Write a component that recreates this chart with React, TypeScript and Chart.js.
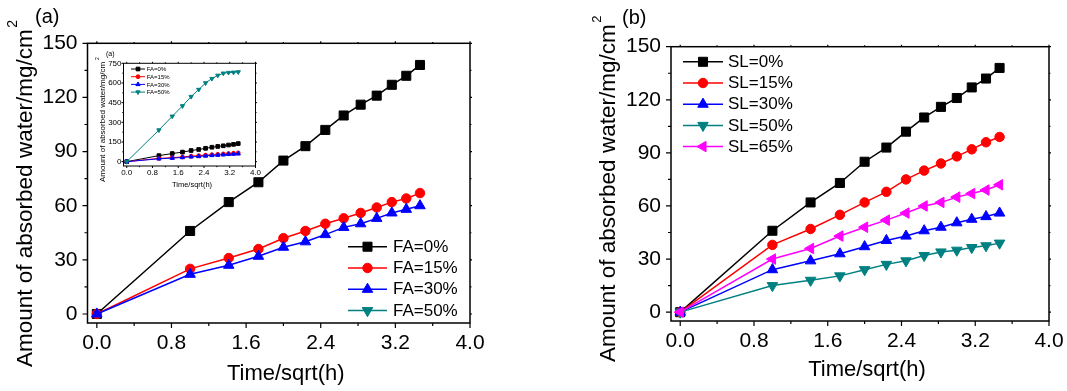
import React, { useEffect, useRef } from 'react';
import { Chart, registerables } from 'chart.js';

Chart.register(...registerables);

// ---------- data ----------
const timeSqrtH = [0, 1, 1.414, 1.732, 2, 2.236, 2.449, 2.646, 2.828, 3, 3.162, 3.317, 3.464];

const fa0 = [0, 46, 62, 73, 85, 93, 102, 110, 116, 121, 127, 132, 138];
const fa15 = [0, 25, 31, 36, 42, 46, 50, 53, 56, 59, 62, 64, 67];
const fa30 = [0, 22, 27, 32, 37, 40, 44, 48, 50, 53, 56, 58, 60];
const fa50 = [0, 241, 346, 425, 496, 550, 600, 633, 658, 674, 679, 681, 684];

const sl0 = [0, 46, 62, 73, 85, 93, 102, 110, 116, 121, 127, 132, 138];
const sl15 = [0, 38, 47, 55, 62, 68, 75, 80, 84, 88, 92, 96, 99];
const sl30 = [0, 24, 29, 33, 37, 40.5, 43, 46, 48, 50.5, 52.5, 54, 56];
const sl50 = [0, 15, 18, 20.5, 24, 27, 29, 32, 34, 35, 36.5, 37.5, 39];
const sl65 = [0, 30, 36, 43, 48, 52, 56, 60, 62, 65, 67, 69, 72];

const faLabels = ['FA=0%', 'FA=15%', 'FA=30%', 'FA=50%'];
const slLabels = ['SL=0%', 'SL=15%', 'SL=30%', 'SL=50%', 'SL=65%'];

const xTicks = [0, 0.8, 1.6, 2.4, 3.2, 4.0];
const xMinor = [0.4, 1.2, 2.0, 2.8, 3.6];
const yTicksMain = [0, 30, 60, 90, 120, 150];
const yMinorMain = [15, 45, 75, 105, 135];
const yTicksInset = [0, 150, 300, 450, 600, 750];
const yMinorInset = [75, 225, 375, 525, 675];

const xTitleText = 'Time/sqrt(h)';
const yTitleText = 'Amount of absorbed water/mg/cm';

// ---------- styles ----------
const FAMILY = "'Liberation Sans', Arial, Helvetica, sans-serif";
const COLORS = { black: '#000000', red: '#FF0000', blue: '#0000FF', teal: '#008080', magenta: '#FF00FF' };
type Marker = { style: string; rot: number; size: number };
const MK: Record<string, Marker> = {
  square: { style: 'rect', rot: 0, size: 1.0 },
  circle: { style: 'circle', rot: 0, size: 0.74 },
  up: { style: 'triangle', rot: 0, size: 0.95 },
  down: { style: 'triangle', rot: 180, size: 0.95 },
  left: { style: 'triangle', rot: 270, size: 0.95 },
};

function drawMarker(ctx: CanvasRenderingContext2D, m: Marker, x: number, y: number, r: number, color: string) {
  ctx.save();
  ctx.fillStyle = color;
  ctx.strokeStyle = color;
  ctx.lineWidth = 1;
  ctx.beginPath();
  if (m.style === 'rect') {
    const s = Math.SQRT1_2 * r;
    ctx.rect(x - s, y - s, 2 * s, 2 * s);
  } else if (m.style === 'circle') {
    ctx.arc(x, y, r, 0, Math.PI * 2);
  } else {
    let rad = (m.rot * Math.PI) / 180;
    ctx.moveTo(x + Math.sin(rad) * r, y - Math.cos(rad) * r);
    rad += (2 * Math.PI) / 3;
    ctx.lineTo(x + Math.sin(rad) * r, y - Math.cos(rad) * r);
    rad += (2 * Math.PI) / 3;
    ctx.lineTo(x + Math.sin(rad) * r, y - Math.cos(rad) * r);
    ctx.closePath();
  }
  ctx.fill();
  ctx.stroke();
  ctx.restore();
}

type SeriesDef = { label: string; values: number[]; color: string; marker: Marker; plot: boolean };

function buildDatasets(series: SeriesDef[], baseR: number, lw: number) {
  return series.map((s, i) => ({
    label: s.label,
    data: s.plot ? timeSqrtH.map((x, k) => ({ x, y: s.values[k] })) : [],
    borderColor: s.color,
    backgroundColor: s.color,
    borderWidth: lw,
    pointStyle: s.marker.style,
    pointRotation: s.marker.rot,
    pointRadius: baseR * s.marker.size,
    pointHoverRadius: baseR * s.marker.size,
    pointBackgroundColor: s.color,
    pointBorderColor: s.color,
    pointBorderWidth: 1,
    tension: 0,
    order: -i,
  }));
}

type Opts = {
  yW: number; padT: number; padR: number; xH: number;
  yMin: number; yMax: number;
  yTicks: number[]; yMinor: number[];
  tickSize: number; tickPadX: number; tickPadY: number;
  frameW: number; majLen: number; minLen: number; oppLen: number;
  xTitle: { dx: number; y: number; size: number };
  yTitle: { x: number; y: number; size: number; sup: number; rise: number; gap: number };
  tag: { text: string; x: number; y: number; size: number };
  legend: { x: number; y: number; dy: number; half: number; textX: number; size: number; r: number; lw: number };
  series: SeriesDef[];
  markerR: number;
};

function decoPlugin(o: Opts) {
  return {
    id: 'deco',
    afterDraw(chart: any) {
      const ctx: CanvasRenderingContext2D = chart.ctx;
      const { left, right, top, bottom } = chart.chartArea;
      const xs = chart.scales.x;
      const ys = chart.scales.y;
      ctx.save();
      ctx.strokeStyle = '#000';
      ctx.lineWidth = o.frameW;
      ctx.strokeRect(left, top, right - left, bottom - top);
      ctx.lineWidth = Math.max(1, o.frameW * 0.8);
      ctx.beginPath();
      const tickX = (v: number, len: number, opp: number) => {
        const p = xs.getPixelForValue(v);
        ctx.moveTo(p, bottom); ctx.lineTo(p, bottom + len);
        ctx.moveTo(p, top); ctx.lineTo(p, top - opp);
      };
      const tickY = (v: number, len: number, opp: number) => {
        const p = ys.getPixelForValue(v);
        ctx.moveTo(left, p); ctx.lineTo(left - len, p);
        ctx.moveTo(right, p); ctx.lineTo(right + opp, p);
      };
      xTicks.forEach((v) => tickX(v, o.majLen, o.oppLen));
      xMinor.forEach((v) => tickX(v, o.minLen, o.oppLen * 0.7));
      o.yTicks.forEach((v) => tickY(v, o.majLen, o.oppLen));
      o.yMinor.forEach((v) => tickY(v, o.minLen, o.oppLen * 0.7));
      ctx.stroke();

      ctx.fillStyle = '#000';
      // x title
      ctx.font = `${o.xTitle.size}px ${FAMILY}`;
      ctx.textAlign = 'center';
      ctx.textBaseline = 'alphabetic';
      ctx.fillText(xTitleText, (left + right) / 2 + o.xTitle.dx, o.xTitle.y);
      // y title
      ctx.save();
      ctx.translate(o.yTitle.x, o.yTitle.y);
      ctx.rotate(-Math.PI / 2);
      ctx.textAlign = 'left';
      ctx.font = `${o.yTitle.size}px ${FAMILY}`;
      ctx.fillText(yTitleText, 0, 0);
      const w = ctx.measureText(yTitleText).width;
      ctx.font = `${o.yTitle.sup}px ${FAMILY}`;
      ctx.fillText('2', w + o.yTitle.gap, -o.yTitle.rise);
      ctx.restore();
      // tag
      ctx.font = `${o.tag.size}px ${FAMILY}`;
      ctx.textAlign = 'left';
      ctx.fillText(o.tag.text, o.tag.x, o.tag.y);
      // legend
      const L = o.legend;
      o.series.forEach((s, i) => {
        const y = L.y + i * L.dy;
        ctx.strokeStyle = s.color;
        ctx.lineWidth = L.lw;
        ctx.beginPath();
        ctx.moveTo(L.x - L.half, y);
        ctx.lineTo(L.x + L.half, y);
        ctx.stroke();
        drawMarker(ctx, s.marker, L.x, y, L.r * s.marker.size, s.color);
        ctx.fillStyle = '#000';
        ctx.font = `${L.size}px ${FAMILY}`;
        ctx.textAlign = 'left';
        ctx.textBaseline = 'middle';
        ctx.fillText(s.label, L.textX, y + 0.5);
      });
      ctx.restore();
    },
  };
}

function makeChart(canvas: HTMLCanvasElement, o: Opts, lw: number) {
  return new Chart(canvas, {
    type: 'line',
    data: { datasets: buildDatasets(o.series, o.markerR, lw) as any },
    options: {
      animation: false,
      responsive: false,
      maintainAspectRatio: false,
      devicePixelRatio: 1,
      layout: { padding: { left: 0, top: o.padT, right: o.padR, bottom: 0 } },
      plugins: { legend: { display: false }, tooltip: { enabled: false }, title: { display: false } },
      scales: {
        x: {
          type: 'linear',
          min: -0.1,
          max: 4.0,
          grid: { display: false, drawTicks: false },
          border: { display: false },
          ticks: {
            font: { family: FAMILY, size: o.tickSize },
            color: '#000',
            padding: o.tickPadX,
            maxRotation: 0,
            autoSkip: false,
            callback: (v: any) => Number(v).toFixed(1),
          },
          afterBuildTicks: (s: any) => { s.ticks = xTicks.map((v) => ({ value: v })); },
          afterFit: (s: any) => { s.height = o.xH; s.paddingLeft = 0; s.paddingRight = 0; },
        },
        y: {
          type: 'linear',
          min: o.yMin,
          max: o.yMax,
          grid: { display: false, drawTicks: false },
          border: { display: false },
          ticks: {
            font: { family: FAMILY, size: o.tickSize },
            color: '#000',
            padding: o.tickPadY,
            autoSkip: false,
            callback: (v: any) => String(v),
          },
          afterBuildTicks: (s: any) => { s.ticks = o.yTicks.map((v) => ({ value: v })); },
          afterFit: (s: any) => { s.width = o.yW; s.paddingTop = 0; s.paddingBottom = 0; },
        },
      },
    } as any,
    plugins: [decoPlugin(o)],
  });
}

const faSeriesMain: SeriesDef[] = [
  { label: faLabels[0], values: fa0, color: COLORS.black, marker: MK.square, plot: true },
  { label: faLabels[1], values: fa15, color: COLORS.red, marker: MK.circle, plot: true },
  { label: faLabels[2], values: fa30, color: COLORS.blue, marker: MK.up, plot: true },
  { label: faLabels[3], values: fa50, color: COLORS.teal, marker: MK.down, plot: false },
];
const faSeriesInset: SeriesDef[] = faSeriesMain.map((s) => ({ ...s, plot: true }));
const slSeries: SeriesDef[] = [
  { label: slLabels[0], values: sl0, color: COLORS.black, marker: MK.square, plot: true },
  { label: slLabels[1], values: sl15, color: COLORS.red, marker: MK.circle, plot: true },
  { label: slLabels[2], values: sl30, color: COLORS.blue, marker: MK.up, plot: true },
  { label: slLabels[3], values: sl50, color: COLORS.teal, marker: MK.down, plot: true },
  { label: slLabels[4], values: sl65, color: COLORS.magenta, marker: MK.left, plot: true },
];

const optsA: Opts = {
  yW: 87.5, padT: 43.3, padR: 70, xH: 68,
  yMin: -5, yMax: 150, yTicks: yTicksMain, yMinor: yMinorMain,
  tickSize: 21, tickPadX: 8, tickPadY: 10,
  frameW: 1.5, majLen: 5, minLen: 3, oppLen: 2,
  xTitle: { dx: 7, y: 380, size: 22 },
  yTitle: { x: 32, y: 367, size: 22.5, sup: 14, rise: 15, gap: 1.5 },
  tag: { text: '(a)', x: 35, y: 23, size: 20 },
  legend: { x: 367.5, y: 246.7, dy: 21.3, half: 19.5, textX: 393, size: 17, r: 6.4, lw: 1.5 },
  series: faSeriesMain, markerR: 6.4,
};

const optsB: Opts = {
  yW: 131, padT: 46.7, padR: 18, xH: 70,
  yMin: -5, yMax: 150, yTicks: yTicksMain, yMinor: yMinorMain,
  tickSize: 21, tickPadX: 8, tickPadY: 10,
  frameW: 1.5, majLen: 5, minLen: 3, oppLen: 2,
  xTitle: { dx: 7, y: 376, size: 22 },
  yTitle: { x: 75, y: 362, size: 22.5, sup: 13, rise: 14, gap: 1.5 },
  tag: { text: '(b)', x: 82, y: 24, size: 20 },
  legend: { x: 163, y: 61.8, dy: 21.2, half: 20, textX: 188, size: 17, r: 6.4, lw: 1.5 },
  series: slSeries, markerR: 6.4,
};

const optsInset: Opts = {
  yW: 35.5, padT: 19.3, padR: 7.5, xH: 28,
  yMin: -33, yMax: 750, yTicks: yTicksInset, yMinor: yMinorInset,
  tickSize: 8, tickPadX: 2, tickPadY: 2,
  frameW: 1, majLen: 2, minLen: 1.2, oppLen: 1.5,
  xTitle: { dx: 2.5, y: 142.5, size: 7.5 },
  yTitle: { x: 17, y: 138, size: 8, sup: 5, rise: 6, gap: 2 },
  tag: { text: '(a)', x: 18, y: 11.5, size: 7 },
  legend: { x: 50, y: 25, dy: 7.7, half: 7, textX: 58.7, size: 6, r: 2.6, lw: 1 },
  series: faSeriesInset, markerR: 2.6,
};

function ChartCanvas(props: { opts: Opts; lw: number; left: number; top: number; width: number; height: number }) {
  const ref = useRef<HTMLCanvasElement | null>(null);
  useEffect(() => {
    if (!ref.current) return;
    const c = makeChart(ref.current, props.opts, props.lw);
    return () => c.destroy();
  }, []);
  return (
    <canvas
      ref={ref}
      width={props.width}
      height={props.height}
      style={{ position: 'absolute', left: props.left, top: props.top, width: props.width, height: props.height }}
    />
  );
}

export default function App() {
  return (
    <div style={{ position: 'absolute', left: 0, top: 0, width: 1067, height: 391, background: '#fff', overflow: 'hidden' }}>
      <ChartCanvas opts={optsA} lw={1.5} left={0} top={0} width={540} height={391} />
      <ChartCanvas opts={optsB} lw={1.5} left={540} top={0} width={527} height={391} />
      <ChartCanvas opts={optsInset} lw={1} left={88} top={44} width={175} height={150} />
    </div>
  );
}
